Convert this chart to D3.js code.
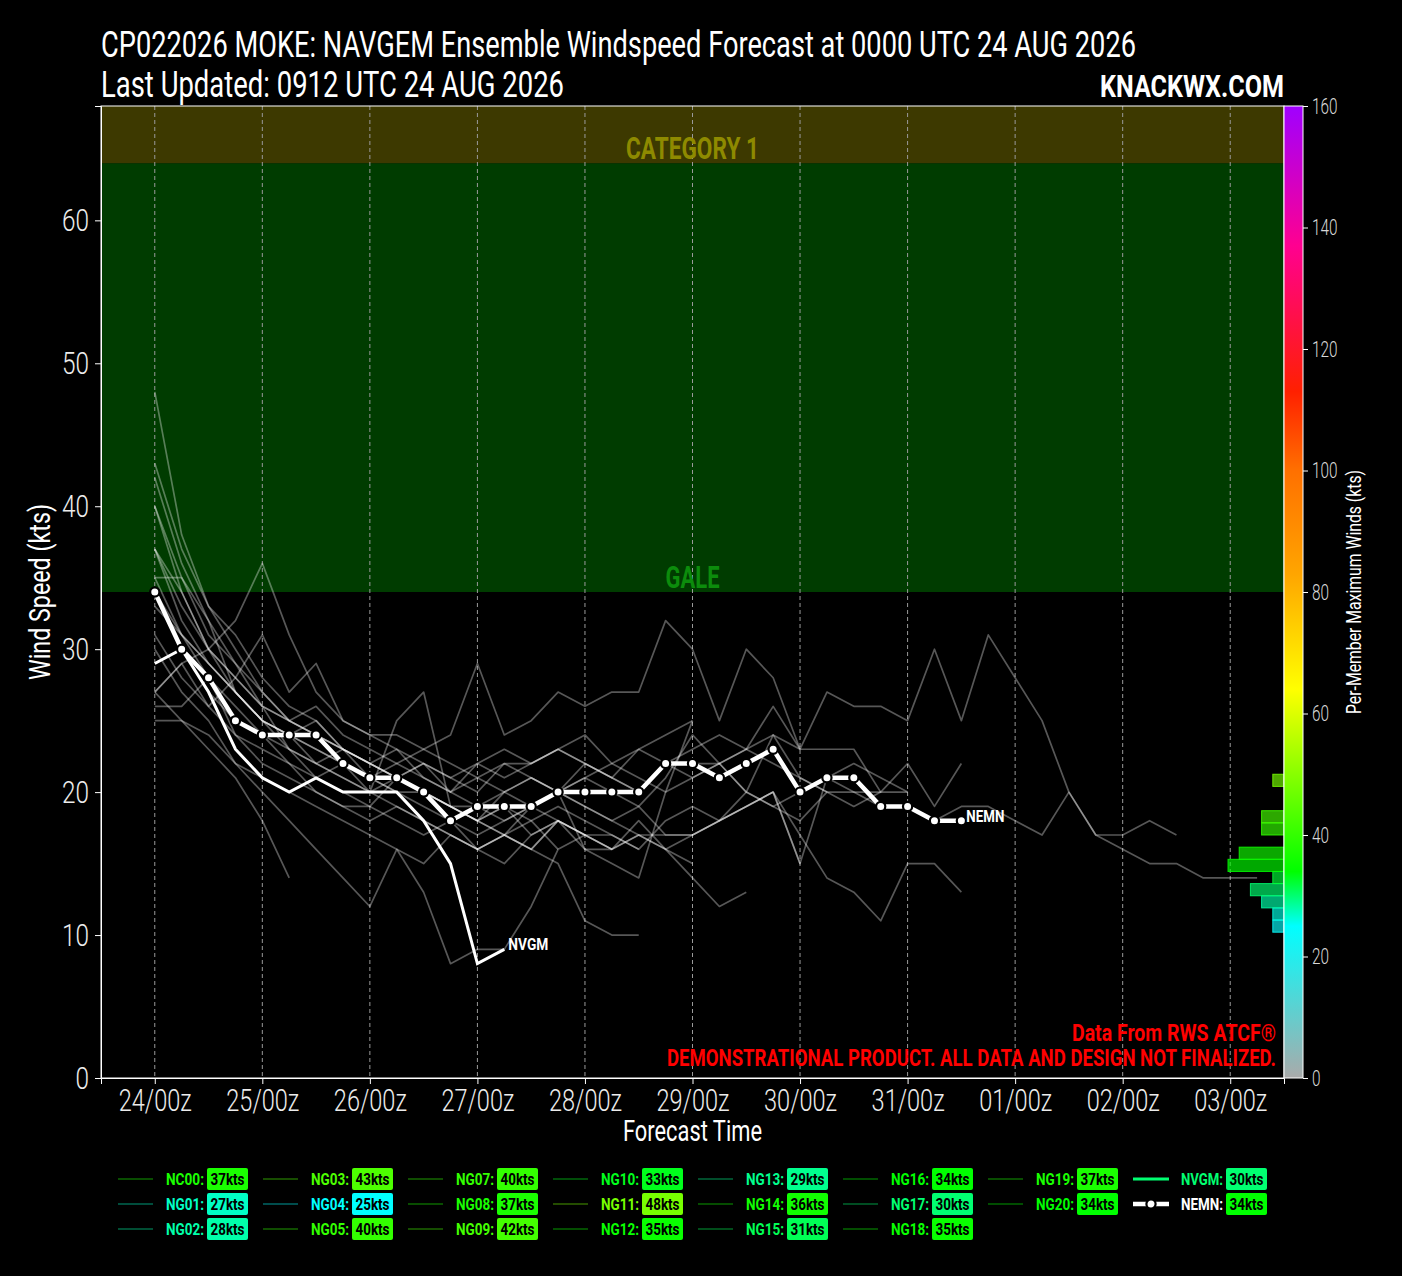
<!DOCTYPE html>
<html lang="en">
<head>
<meta charset="UTF-8">
<title>NAVGEM Ensemble Windspeed Forecast</title>
<script src="https://cdn.jsdelivr.net/npm/d3@7"></script>
<style>
  body { margin: 0; background: #000; }
  svg { display: block; }
  text { font-family: Roboto, 'Liberation Sans', sans-serif; }
</style>
</head>
<body>
<svg id="chart" width="1402" height="1276"></svg>
<script>
// ---- data ----
var dayLabels = ["24/00z","25/00z","26/00z","27/00z","28/00z","29/00z","30/00z","31/00z","01/00z","02/00z","03/00z"];
var dayHours = [0,24,48,72,96,120,144,168,192,216,240];
var yTicks = [0,10,20,30,40,50,60];
var cbTicks = [0,20,40,60,80,100,120,140,160];

var memberNames = ["NC00","NG01","NG02","NG03","NG04","NG05","NG07","NG08","NG09","NG10",
                   "NG11","NG12","NG13","NG14","NG15","NG16","NG17","NG18","NG19","NG20"];
var memberMax = [37,27,28,43,25,40,40,37,42,33,48,35,29,36,31,34,30,35,37,34];

// winds (kts) every 6 h from 0000 UTC 24 AUG
var memberTracks = [
  [37,33,30,28,26,25,24,23,22,21,22,21,20,22,21,20,22,21,20,22,23,24,23,24,23,23,23,20,20],
  [27,25,24,22,21,20,19,18,17,16,15,17,16,17,16,15,11,10,10],
  [26,26,28,24,22,21,20,19,18,19,18,17,16,15,17,18,17,16,18,16,14,12,13],
  [43,37,33,30,27,25,26,24,23,22,21,20,22,21,22,23,24,22,23,22,22,22,23,26,23,27,26,26,25,30,25,31,28,25,20,17,17,18,17],
  [25,25,23,21,18,14],
  [40,35,31,29,26,23,21,22,20,25,27,19,18,19,18,16],
  [40,34,30,28,26,25,24,23,22,21,20,19,18,19,17,18,16,15,14,20,25],
  [37,32,29,27,25,23,22,21,20,19,18,17,16,17,18,19,18,17,16,18,19,18,20,19,18,20,19,20,22,19,22],
  [42,36,32,29,27,25,24,23,22,23,21,20,21,20,19,20,21,20,19,21,24,22,20,24,21,20],
  [33,31,29,27,25,24,22,23,21,22,23,24,29,24,25,27,26,27,27,32,30,25,30,28,23],
  [48,38,33,31,28,26,25,23,22,21,20,19,18,20,21,20,19,18,17,16,17,18,19,20,17,14,13,11,15,15,13],
  [35,35,32,27,25,24,25,23,22,21,22,20,19,20,21,20,16,16],
  [27,29,26,24,23,22,20,19,19,21,20,19,18,17,16,18,17,16,17,16,15],
  [27,29,30,32,36,31,27,25,24,24,23,22,21,22,22,23,22,21,20,22,21,22,20,19,20,21,22,21,20],
  [31,28,26,28,31,27,29,25,24,23,22,21,22,23,22,23,22,21,23,24,25],
  [34,31,29,27,25,24,23,22,21,20,20,19,19,18,19,20,21,22,21,20,21,22,23,22,21,20,20,19,19,18,19,19,18,17,20,17,16,15,15,14,14,14],
  [30,27,25,22,20,18,16,14,12,16,13,8,9,9,12,16,17,17,16],
  [35,31,28,26,24,22,21,20,19,18,17,18,16,17,19,18,17],
  [37,34,30,27,25,24,23,22,21,20,19,18,17,18,19,20,19,18,19,17,17,18,19,20,15],
  [34,30,27,25,24,23,22,21,20,21,20,19,18,17,16,18,17,16,17,17,17,18,19,20,15,21,20,20]
];
var nvgmTrack = [29,30,27,23,21,20,21,20,20,20,18,15,8,9];
var nemnTrack = [34,30,28,25,24,24,24,22,21,21,20,18,19,19,19,20,20,20,20,22,22,21,22,23,20,21,21,19,19,18,18];
var nvgmMax = 30, nemnMax = 34;

var bandNames = ["GALE","CATEGORY 1"];
var bandLo = [34,64];
var bandHi = [64,83];
var bandFill = ["#003c00","#3d3900"];
var bandText = ["#0c8c0c","#8e8a00"];

var cmapStops = [0,25,34,64,83,100,113,137,160];
var cmapColors = ["#aaaaaa","#00ffff","#00ff00","#ffff00","#ffa500","#ff7000","#ff2000","#ff0090","#a000ff"];

// ---- layout ----
var W = 1402, H = 1276;
var plotL = 101, plotR = 1284, plotT = 106, plotB = 1078;
var svg = d3.select("#chart");

var x = d3.scaleLinear().domain([-12, 252]).range([plotL, plotR]);
var y = d3.scaleLinear().domain([0, 68]).range([plotB, plotT]);
var cb = d3.scaleLinear().domain([0, 160]).range([plotB, plotT]);
var cmap = d3.scaleLinear().domain(cmapStops).range(cmapColors).clamp(true);

// squeeze text to the narrow look of the original lettering
function fit(sel, w) {
    return sel.attr("textLength", w).attr("lengthAdjust", "spacingAndGlyphs");
}

svg.append("rect").attr("width", W).attr("height", H).attr("fill", "#000");

// intensity bands
bandNames.forEach(function(name, i){
    var yt = y(Math.min(bandHi[i], 68));
    svg.append("rect")
        .attr("x", plotL).attr("y", yt)
        .attr("width", plotR - plotL).attr("height", y(bandLo[i]) - yt)
        .attr("fill", bandFill[i]);
});

// vertical dashed day lines
svg.append("g").selectAll("line")
    .data(dayHours).enter().append("line")
    .attr("x1", function(d){ return x(d); }).attr("x2", function(d){ return x(d); })
    .attr("y1", plotT).attr("y2", plotB)
    .attr("stroke", "#9a9a9a").attr("stroke-width", 1)
    .attr("stroke-dasharray", "4,3");

// band labels
var bandW = [54, 133];
bandNames.forEach(function(name, i){
    fit(svg.append("text")
        .attr("x", (plotL + plotR) / 2)
        .attr("y", y(bandLo[i]) - 4)
        .attr("text-anchor", "middle")
        .attr("font-size", 32).attr("font-weight", "bold")
        .attr("fill", bandText[i])
        .text(name), bandW[i]);
});

// member lines
var line = d3.line()
    .x(function(d, i){ return x(i * 6); })
    .y(function(d){ return y(d); });

svg.append("g").selectAll("path")
    .data(memberTracks).enter().append("path")
    .attr("d", line)
    .attr("fill", "none")
    .attr("stroke", "#ffffff").attr("stroke-opacity", 0.34)
    .attr("stroke-width", 1.7)
    .attr("stroke-linejoin", "round");

// histogram of per-member maximum winds
var allMax = memberMax.concat([nvgmMax, nemnMax]);
var bins = d3.bin().domain([0, 160]).thresholds(d3.range(0, 161, 2))(allMax)
    .filter(function(b){ return b.length > 0; });
var hx = d3.scaleLinear().domain([0, 5]).range([plotR, plotR - 56]);
svg.append("g").selectAll("rect")
    .data(bins).enter().append("rect")
    .attr("x", function(d){ return hx(d.length); })
    .attr("y", function(d){ return cb(d.x1); })
    .attr("width", function(d){ return plotR - hx(d.length); })
    .attr("height", function(d){ return cb(d.x0) - cb(d.x1); })
    .attr("fill", function(d){ return cmap(d.x0); })
    .attr("fill-opacity", 0.66)
    .attr("stroke", function(d){ return cmap(d.x0); })
    .attr("stroke-opacity", 0.85)
    .attr("stroke-width", 1);

// NVGM (deterministic)
svg.append("path")
    .attr("d", line(nvgmTrack))
    .attr("fill", "none").attr("stroke", "#fff").attr("stroke-width", 3);
fit(svg.append("text")
    .attr("x", x((nvgmTrack.length - 1) * 6) + 4)
    .attr("y", y(nvgmTrack[nvgmTrack.length - 1]) + 1)
    .attr("fill", "#fff").attr("font-size", 17).attr("font-weight", "bold")
    .text("NVGM"), 40);

// NEMN (ensemble mean): thick line, ringed markers
svg.append("path")
    .attr("d", line(nemnTrack))
    .attr("fill", "none").attr("stroke", "#fff").attr("stroke-width", 4.5);
svg.append("g").selectAll("circle")
    .data(nemnTrack).enter().append("circle")
    .attr("cx", function(d, i){ return x(i * 6); })
    .attr("cy", function(d){ return y(d); })
    .attr("r", 4.6)
    .attr("fill", "#fff").attr("stroke", "#000").attr("stroke-width", 2.2);
fit(svg.append("text")
    .attr("x", x((nemnTrack.length - 1) * 6) + 5)
    .attr("y", y(nemnTrack[nemnTrack.length - 1]) + 1)
    .attr("fill", "#fff").attr("font-size", 17).attr("font-weight", "bold")
    .text("NEMN"), 38);

// frame
svg.append("rect")
    .attr("x", plotL).attr("y", plotT)
    .attr("width", plotR - plotL).attr("height", plotB - plotT)
    .attr("fill", "none").attr("stroke", "#fff").attr("stroke-width", 1);

// axes
var yAxis = svg.append("g")
    .attr("transform", "translate(" + plotL + ",0)")
    .call(d3.axisLeft(y).tickValues(yTicks).tickSize(6).tickPadding(6));
var xAxis = svg.append("g")
    .attr("transform", "translate(0," + plotB + ")")
    .call(d3.axisBottom(x).tickValues(dayHours).tickSize(6).tickPadding(4)
        .tickFormat(function(d, i){ return dayLabels[i]; }));
[yAxis, xAxis].forEach(function(a){
    a.select(".domain").attr("stroke", "#fff");
    a.selectAll(".tick line").attr("stroke", "#fff");
    a.selectAll(".tick text").attr("fill", "#ececec")
        .attr("font-size", 32).attr("font-weight", 300)
        .style("font-family", "Roboto, 'Liberation Sans', sans-serif");
});
yAxis.selectAll(".tick text").each(function(){
    var t = d3.select(this);
    fit(t, t.text().length * 13.5);
});
xAxis.selectAll(".tick text").each(function(){ fit(d3.select(this), 73); });

fit(svg.append("text")
    .attr("x", (plotL + plotR) / 2).attr("y", 1141)
    .attr("text-anchor", "middle").attr("fill", "#fff").attr("font-size", 29)
    .text("Forecast Time"), 139);
fit(svg.append("text")
    .attr("transform", "translate(50," + ((plotT + plotB) / 2) + ") rotate(-90)")
    .attr("text-anchor", "middle").attr("fill", "#fff").attr("font-size", 29)
    .text("Wind Speed (kts)"), 176);

// colorbar
var grad = svg.append("defs").append("linearGradient")
    .attr("id", "cbgrad").attr("x1", 0).attr("y1", 1).attr("x2", 0).attr("y2", 0);
cmapStops.forEach(function(s, i){
    grad.append("stop").attr("offset", s / 160).attr("stop-color", cmapColors[i]);
});
svg.append("rect")
    .attr("x", plotR).attr("y", plotT)
    .attr("width", 19).attr("height", plotB - plotT)
    .attr("fill", "url(#cbgrad)")
    .attr("stroke", "#fff").attr("stroke-width", 1);
var cbAxis = svg.append("g")
    .attr("transform", "translate(" + (plotR + 19) + ",0)")
    .call(d3.axisRight(cb).tickValues(cbTicks).tickSize(5).tickPadding(4));
cbAxis.select(".domain").remove();
cbAxis.selectAll(".tick line").attr("stroke", "#fff");
cbAxis.selectAll(".tick text").attr("fill", "#d8d8d8").attr("font-size", 22).attr("font-weight", 300)
    .style("font-family", "Roboto, 'Liberation Sans', sans-serif")
    .each(function(){
        var t = d3.select(this);
        fit(t, t.text().length * 8.5);
    });
fit(svg.append("text")
    .attr("transform", "translate(1361," + ((plotT + plotB) / 2) + ") rotate(-90)")
    .attr("text-anchor", "middle").attr("fill", "#fff").attr("font-size", 20)
    .text("Per-Member Maximum Winds (kts)"), 244);

// titles
fit(svg.append("text").attr("x", plotL).attr("y", 57)
    .attr("fill", "#fff").attr("font-size", 37)
    .text("CP022026 MOKE: NAVGEM Ensemble Windspeed Forecast at 0000 UTC 24 AUG 2026"), 1035);
fit(svg.append("text").attr("x", plotL).attr("y", 97)
    .attr("fill", "#fff").attr("font-size", 37)
    .text("Last Updated: 0912 UTC 24 AUG 2026"), 463);
fit(svg.append("text").attr("x", 1100).attr("y", 97)
    .attr("fill", "#fff").attr("font-size", 32).attr("font-weight", "bold")
    .text("KNACKWX.COM"), 184);

// source notes
fit(svg.append("text").attr("x", 1072).attr("y", 1041)
    .attr("fill", "#ff0000").attr("font-size", 24).attr("font-weight", "bold")
    .text("Data From RWS ATCF®"), 204);
fit(svg.append("text").attr("x", 667).attr("y", 1066)
    .attr("fill", "#ff0000").attr("font-size", 24).attr("font-weight", "bold")
    .text("DEMONSTRATIONAL PRODUCT. ALL DATA AND DESIGN NOT FINALIZED."), 609);

// legend
var legendItems = memberNames.map(function(n, i){
    return {name: n, max: memberMax[i], kind: "member"};
});
legendItems.push({name: "NVGM", max: nvgmMax, kind: "nvgm"});
legendItems.push({name: "NEMN", max: nemnMax, kind: "nemn"});
// members fill the columns top to bottom, three rows; NVGM/NEMN share the last column
var slots = [];
for (var i = 0; i < memberNames.length; i++) slots.push([Math.floor(i / 3), i % 3]);
slots.push([7, 0]); slots.push([7, 1]);

var legend = svg.append("g").attr("class", "legend");
legendItems.forEach(function(d, i){
    var cx = 118 + slots[i][0] * 145;
    var cy = 1179 + slots[i][1] * 25;
    var c = cmap(d.max);
    var g = legend.append("g").attr("transform", "translate(" + cx + "," + cy + ")");
    if (d.kind === "member") {
        g.append("line").attr("x1", 0).attr("x2", 35)
            .attr("stroke", c).attr("stroke-opacity", 0.3).attr("stroke-width", 2);
    } else if (d.kind === "nvgm") {
        g.append("line").attr("x1", 0).attr("x2", 36)
            .attr("stroke", c).attr("stroke-width", 3);
    } else {
        g.append("line").attr("x1", 0).attr("x2", 36)
            .attr("stroke", "#fff").attr("stroke-width", 4.5);
        g.append("circle").attr("cx", 18).attr("r", 4.6)
            .attr("fill", "#fff").attr("stroke", "#000").attr("stroke-width", 2.2);
    }
    var lw = d.kind === "member" ? 38 : 42;
    fit(g.append("text").attr("x", 48).attr("y", 6)
        .attr("fill", d.kind === "nemn" ? "#fff" : c)
        .attr("font-size", 17).attr("font-weight", "bold")
        .text(d.name + ":"), lw);
    var bx = 48 + lw + 3;
    g.append("rect")
        .attr("x", bx).attr("y", -11)
        .attr("width", 41).attr("height", 22)
        .attr("rx", 2)
        .attr("fill", c);
    fit(g.append("text").attr("x", bx + 3.5).attr("y", 6)
        .attr("fill", "#000").attr("font-size", 17).attr("font-weight", "bold")
        .text(d.max + "kts"), 34);
});
</script>
</body>
</html>
